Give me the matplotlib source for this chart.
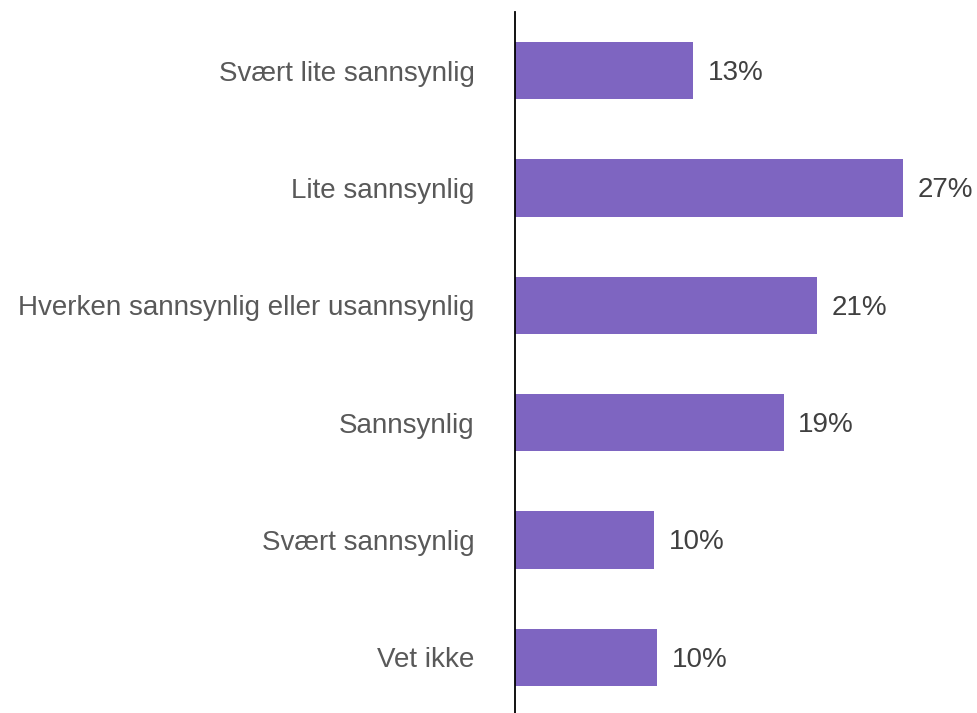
import matplotlib.pyplot as plt

plt.rcParams['font.family'] = ['Liberation Sans', 'DejaVu Sans']

# data
categories = ['Svært lite sannsynlig', 'Lite sannsynlig',
              'Hverken sannsynlig eller usannsynlig', 'Sannsynlig',
              'Svært sannsynlig', 'Vet ikke']
values = [12.4, 27.0, 21.0, 18.7, 9.7, 9.9]
labels = ['13%', '27%', '21%', '19%', '10%', '10%']

fig = plt.figure(figsize=(9.78, 7.13), dpi=100)
ax = fig.add_axes([515 / 978, -3 / 713, 463 / 978, 704 / 713])

ypos = list(range(len(categories)))
bars = ax.barh(ypos, values, height=0.49, color='#7E65C1')

for b, lab in zip(bars, labels):
    ax.text(b.get_width() + 1.0, b.get_y() + b.get_height() / 2 + 0.02, lab,
            va='center', ha='left', fontsize=20, color='#404040')

ax.set_yticks(ypos)
ax.set_yticklabels(categories, fontsize=20, color='#595959')
ax.tick_params(axis='y', length=0, pad=29)
ax.set_ylim(len(categories) - 0.5, -0.5)
ax.set_xlim(0, 32.2)
ax.set_xticks([])

for s in ['top', 'right', 'bottom']:
    ax.spines[s].set_visible(False)
ax.spines['left'].set_color('black')
ax.spines['left'].set_linewidth(1.3)

fig.savefig('out.png', dpi=100)
